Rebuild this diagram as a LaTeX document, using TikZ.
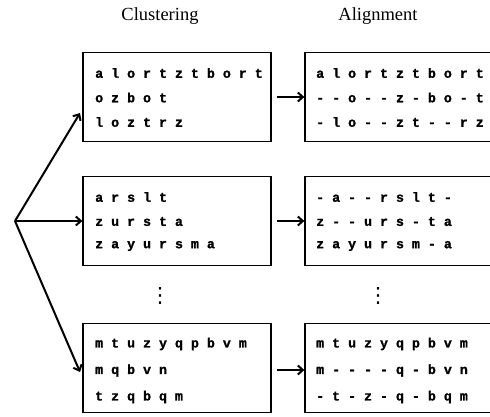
\documentclass[tikz,border=0pt]{standalone}
\usepackage{fontspec}
\setmainfont{Liberation Serif}
\setmonofont{Liberation Mono}[BoldFeatures={FakeBold=1.2}]
\newfontfamily\symfont{DejaVu Sans}
\usetikzlibrary{arrows.meta}
\begin{document}
\begin{tikzpicture}[x=1pt,y=-1pt,
  box/.style={draw,line width=1.3pt,minimum width=188pt,minimum height=89pt,inner sep=0pt},
  seq/.style={anchor=west,inner sep=0pt,font=\fontsize{13.3}{14}\ttfamily\bfseries},
  title/.style={font=\fontsize{18.5}{20}\selectfont},
  arr/.style={line width=2pt,-{Straight Barb[length=5pt,width=9pt,line width=2pt]}},
  dots/.style={inner sep=0pt,font=\fontsize{21}{22}\symfont}]
\useasboundingbox (0,0) rectangle (490,416);
\clip (0,0) rectangle (490,416);
\node[title] (t1) at (160,16) {Clustering};
\node[title] (t2) at (378,16) {Alignment};
% boxes
\node[box] (c1) at (177,97) {};
\node[box] (c2) at (177,221) {};
\node[box] (c3) at (177,368) {};
\node[box] (a1) at (399,97) {};
\node[box] (a2) at (399,221) {};
\node[box] (a3) at (399,368) {};
% cluster texts
\node[seq] (c1r1) at (95,73) {a l o r t z t b o r t};
\node[seq] (c1r2) at (95,97.5) {o z b o t};
\node[seq] (c1r3) at (95,122) {l o z t r z};
\node[seq] (c2r1) at (95,197) {a r s l t};
\node[seq] (c2r2) at (95,221.5) {z u r s t a};
\node[seq] (c2r3) at (95,246) {z a y u r s m a};
\node[seq] (c3r1) at (95,344) {m t u z y q p b v m};
\node[seq] (c3r2) at (95,370.5) {m q b v n};
\node[seq] (c3r3) at (95,397) {t z q b q m};
% alignment texts
\node[seq] (a1r1) at (316,73) {a l o r t z t b o r t};
\node[seq] (a1r2) at (316,97.5) {- - o - - z - b o - t};
\node[seq] (a1r3) at (316,122) {- l o - - z t - - r z};
\node[seq] (a2r1) at (316,197) {- a - - r s l t -};
\node[seq] (a2r2) at (316,221.5) {z - - u r s - t a};
\node[seq] (a2r3) at (316,246) {z a y u r s m - a};
\node[seq] (a3r1) at (316,344) {m t u z y q p b v m};
\node[seq] (a3r2) at (316,370.5) {m - - - - q - b v n};
\node[seq] (a3r3) at (316,397) {- t - z - q - b q m};
% dots
\node[dots] (d1) at (160,295.5) {⋮};
\node[dots] (d2) at (378,295.5) {⋮};
% fan arrows
\coordinate (fan) at (15,221);
\coordinate (e1) at (80,113);
\coordinate (e3) at (80,372);
\draw[arr] (fan) -- (e1);
\draw[arr] (fan) -- (c2.west);
\draw[arr] (fan) -- (e3);
% horizontal arrows
\draw[arr] ([xshift=5pt]c1.east) -- (a1.west);
\draw[arr] ([xshift=5pt]c2.east) -- (a2.west);
\draw[arr] ([xshift=5pt,yshift=-2pt]c3.east) -- ([yshift=-2pt]a3.west);
\end{tikzpicture}
\end{document}
